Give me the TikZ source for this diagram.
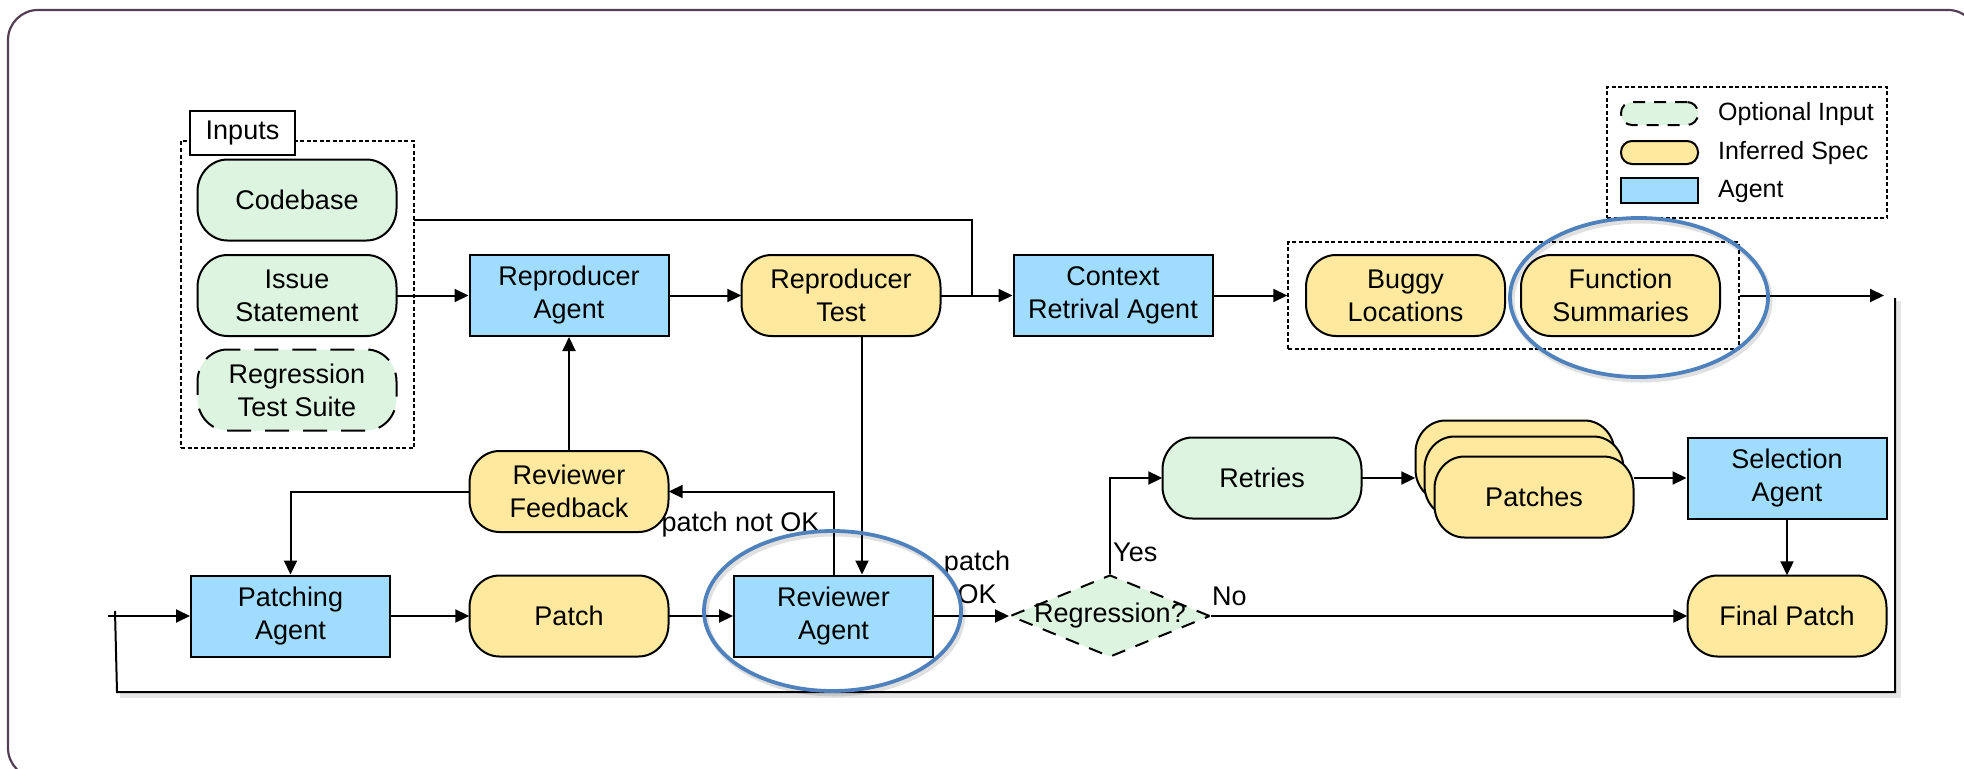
\documentclass[tikz,border=0pt]{standalone}
\usepackage{fontspec}
\setmainfont{Liberation Sans}
\usetikzlibrary{arrows.meta,shapes.geometric,calc}

\definecolor{agentblue}{RGB}{160,220,254}
\definecolor{specyellow}{RGB}{255,233,158}
\definecolor{optgreen}{RGB}{221,245,224}
\definecolor{hiliteblue}{RGB}{79,129,189}
\definecolor{framepurple}{RGB}{84,62,84}

% a 199 x 81 box with elliptical ends, plus an invisible node carrying the text
\newcommand\pillat[5]{%
  \path[pillline,#4] ({#2-69.5},{#3-40.5})
    arc[start angle=90,end angle=180,x radius=30pt,y radius=32pt] -- ++(0,17)
    arc[start angle=180,end angle=270,x radius=30pt,y radius=32pt] -- ({#2+69.5},{#3+40.5})
    arc[start angle=270,end angle=360,x radius=30pt,y radius=32pt] -- ++(0,-17)
    arc[start angle=0,end angle=90,x radius=30pt,y radius=32pt] -- cycle;
  \node[pillbox] (#1) at (#2,#3) {#5};}

\begin{document}
\begin{tikzpicture}[x=1pt,y=-1pt,
  txt/.style={font=\fontsize{27}{33}\selectfont},
  base/.style={txt, minimum width=199pt, minimum height=81pt, inner sep=0pt,
    align=center, line width=2pt, draw=black},
  agent/.style={base, rectangle, fill=agentblue},
  pillbox/.style={txt, minimum width=199pt, minimum height=81pt, inner sep=0pt,
    align=center},
  pillline/.style={draw=black, line width=2pt},
  spec/.style={fill=specyellow},
  input/.style={fill=optgreen},
  optinput/.style={fill=optgreen, dash pattern=on 24pt off 14pt},
  group/.style={draw, line width=1.5pt, dash pattern=on 4pt off 2.5pt,
    inner sep=0pt},
  flow/.style={line width=2pt, -{Triangle[length=14pt,width=13pt]}},
  wire/.style={line width=2pt},
  lbl/.style={txt, inner sep=0pt, align=center},
  legtext/.style={font=\fontsize{25}{30}\selectfont, inner sep=0pt, anchor=west},
  swatch/.style={draw=black, line width=2pt, minimum width=77pt, inner sep=0pt},
  hilite/.style={ellipse, draw=hiliteblue, line width=3.8pt, inner sep=0pt},
  hiliteshadow/.style={ellipse, draw=black, draw opacity=0.12, line width=5pt, inner sep=0pt},
  lineshadow/.style={draw=black, draw opacity=0.10, line width=5pt}
]
\useasboundingbox (0,0) rectangle (1964,768);

% outer frame
\begin{scope}
  \clip (0,0) rectangle (1964,768);
  \draw[framepurple, line width=2.2pt, rounded corners=30pt] (8,10) rectangle (1978,778);
\end{scope}

% inputs group
\node[group, minimum width=233pt, minimum height=307pt] (inputs) at (297.5,294.5) {};
\node[draw, fill=white, line width=1.5pt, txt, minimum width=105pt, minimum height=44pt,
  inner sep=0pt] (inputslbl) at (242.5,133) {Inputs};
\pillat{codebase}{297}{200}{input}{Codebase}
\pillat{issue}{297}{295.5}{input}{Issue\\Statement}
\pillat{regr}{297}{390}{optinput}{Regression\\Test Suite}

% top row
\node[agent] (repagent) at (569,295.5) {Reproducer\\Agent};
\pillat{reptest}{841}{295.5}{spec}{Reproducer\\Test}
\node[agent] (context) at (1113,295.5) {Context\\Retrival Agent};
\node[group, minimum width=451pt, minimum height=107pt] (locgroup) at (1513.5,295.5) {};
\pillat{buggy}{1405.5}{295.5}{spec}{Buggy\\Locations}
\pillat{funcsum}{1620.5}{295.5}{spec}{Function\\Summaries}

% legend
\node[group, minimum width=280pt, minimum height=131pt] (legend) at (1747,152.5) {};
\node[swatch, fill=optgreen, minimum height=23pt, rounded corners=11pt,
  dash pattern=on 12pt off 9pt] (swopt) at (1659.5,113.5) {};
\node[swatch, fill=specyellow, minimum height=23pt, rounded corners=11pt] (swspec) at (1659.5,152.5) {};
\node[swatch, fill=agentblue, minimum height=25pt] (swagent) at (1659.5,190.5) {};
\node[legtext] (legopt) at (1718,114) {Optional Input};
\node[legtext] (legspec) at (1718,153) {Inferred Spec};
\node[legtext] (legagent) at (1718,191) {Agent};

% middle and bottom rows
\pillat{feedback}{569}{491.5}{spec}{Reviewer\\Feedback}
\node[agent] (patching) at (290.5,616) {Patching\\Agent};
\pillat{patch}{569}{616}{spec}{Patch}
\node[agent] (reviewer) at (833.5,616) {Reviewer\\Agent};
\node[diamond, draw=black, fill=optgreen, line width=2pt, dash pattern=on 14pt off 11pt,
  minimum width=200pt, minimum height=82pt, inner sep=0pt] (regq) at (1110,616) {};
\node[lbl] (regqtext) at (1110,616) {Regression?};
\pillat{retries}{1262}{478}{input}{Retries}
\pillat{patchesback}{1515}{461}{spec}{}
\pillat{patchesmid}{1524}{477}{spec}{}
\pillat{patchesfront}{1534}{497}{spec}{Patches}
\node[agent] (selection) at (1787,478) {Selection\\Agent};
\pillat{final}{1787}{616}{spec}{Final Patch}

% connector end points
\coordinate (cbout) at (414,220);
\coordinate (cbjoin) at (972,295.5);
\coordinate (sumout) at (1884,295.5);
\coordinate (loopTR) at (1895,298);
\coordinate (loopBR) at (1895,692);
\coordinate (loopBL) at (117,692);
\coordinate (loopTL) at (115,611);
\coordinate (patchin) at (108,616);

% top row connectors
\draw[flow] (issue) -- (repagent);
\draw[flow] (repagent) -- (reptest);
\draw[flow] (reptest) -- (context);
\draw[wire] (cbout) -| (cbjoin);
\draw[flow] (context) -- (locgroup);
\draw[flow] (locgroup.east) -- (sumout);

% return loop with soft shadow
\draw[lineshadow] ([shift={(3,3)}]loopTR) -- ([shift={(3,3)}]loopBR) -- ([shift={(3,3)}]loopBL);
\draw[wire] (loopTR) -- (loopBR) -- (loopBL) -- (loopTL);
\draw[flow] (patchin) -- (patching);

% review loop
\draw[flow] (patching) -- (patch);
\draw[flow] (patch) -- (reviewer);
\draw[flow] (feedback.north) -- (repagent.south);
\draw[flow] (feedback.west) -| (patching.north);
\draw[flow] (reviewer.north) |- (feedback.east);
\draw[flow] ([xshift=21pt]reptest.south) -- ([xshift=28.5pt]reviewer.north);
\node[lbl] (notok) at (740.5,525) {patch not OK};

% regression check
\draw[flow] (reviewer) -- (regq);
\node[lbl] (okl) at (977,577) {patch\\OK};
\draw[flow] (regq.north) |- (retries.west);
\node[lbl, anchor=west] (yes) at (1113,552) {Yes};
\draw[flow] (regq.east) -- (final.west);
\node[lbl, anchor=west] (no) at (1212,596) {No};
\draw[flow] (retries.east) -- (retries.east -| patchesback.west);
\draw[flow] (patchesfront.east |- selection.west) -- (selection.west);
\draw[flow] (selection) -- (final);

% highlight rings
\node[hiliteshadow, minimum width=258pt, minimum height=159pt] (hl1s) at (1641,300.5) {};
\node[hilite, minimum width=258pt, minimum height=159pt] (hl1) at (1639,297.5) {};
\node[hiliteshadow, minimum width=257pt, minimum height=160pt] (hl2s) at (834.5,614) {};
\node[hilite, minimum width=257pt, minimum height=160pt] (hl2) at (832.5,611) {};
\end{tikzpicture}
\end{document}
